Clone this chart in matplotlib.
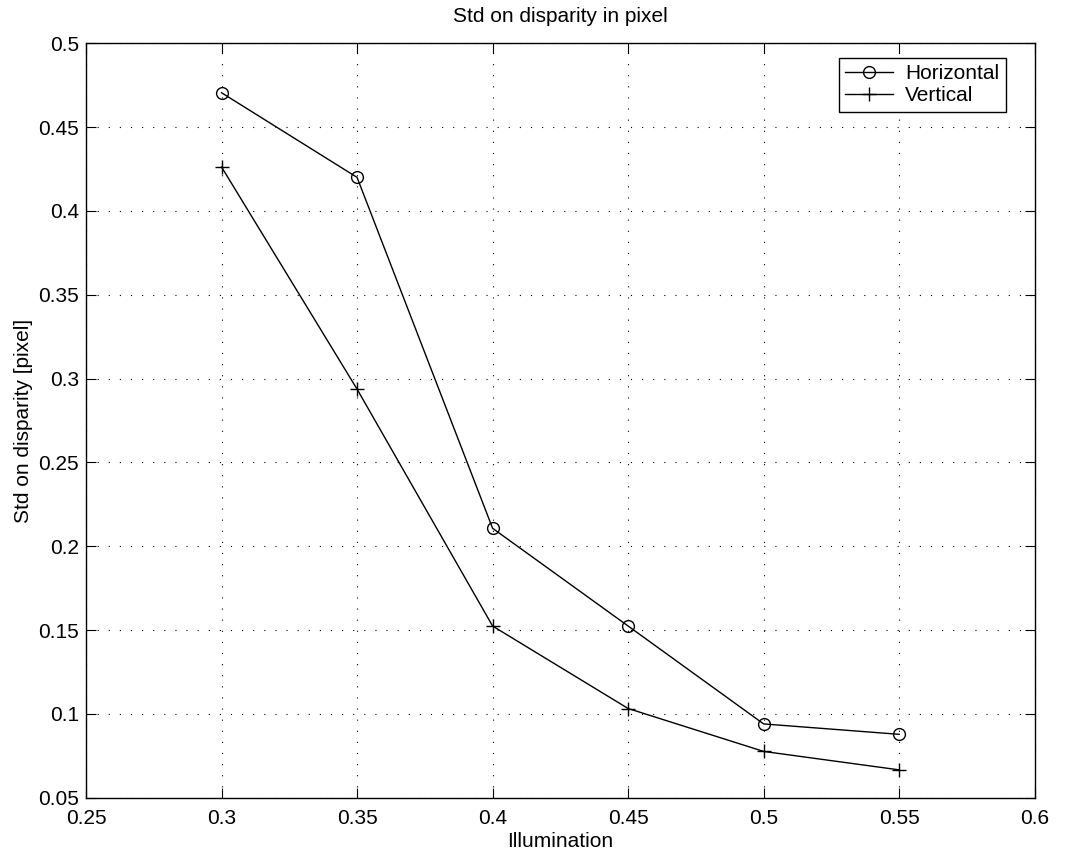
import numpy as np
import matplotlib
matplotlib.use("Agg")
import matplotlib.pyplot as plt

plt.rcParams['font.family'] = ['Liberation Sans', 'DejaVu Sans']

# data
illumination = [0.3, 0.35, 0.4, 0.45, 0.5, 0.55]
std_horizontal = [0.4705, 0.420, 0.2107, 0.1524, 0.094, 0.0878]
std_vertical = [0.4262, 0.2937, 0.1524, 0.1032, 0.0776, 0.0666]

x_ticks = [0.25, 0.3, 0.35, 0.4, 0.45, 0.5, 0.55, 0.6]
x_tick_labels = ['0.25', '0.3', '0.35', '0.4', '0.45', '0.5', '0.55', '0.6']
y_ticks = [0.05, 0.1, 0.15, 0.2, 0.25, 0.3, 0.35, 0.4, 0.45, 0.5]
y_tick_labels = ['0.05', '0.1', '0.15', '0.2', '0.25', '0.3', '0.35', '0.4', '0.45', '0.5']

fig = plt.figure(figsize=(10.7, 8.57), dpi=100)
ax = fig.add_axes([0.0804, 0.0692, 0.8866, 0.8803])

ax.plot(illumination, std_horizontal, color='black', lw=1.0, marker='o',
        markersize=8.5, markerfacecolor='none', markeredgewidth=1.0, label='Horizontal')
ax.plot(illumination, std_vertical, color='black', lw=1.0, marker='+',
        markersize=10, markeredgewidth=1.0, label='Vertical')

ax.set_xlim(0.25, 0.6)
ax.set_ylim(0.05, 0.5)
ax.set_xticks(x_ticks)
ax.set_xticklabels(x_tick_labels)
ax.set_yticks(y_ticks)
ax.set_yticklabels(y_tick_labels)

ax.tick_params(direction='in', length=7, width=0.8, top=True, right=True,
               labelsize=15, colors='black')
ax.tick_params(axis='x', pad=8)
ax.tick_params(axis='y', pad=5)
ax.grid(True, color='black', linestyle=(0, (1, 9)), linewidth=0.8)
for s in ax.spines.values():
    s.set_linewidth(1.0)

ax.set_title('Std on disparity in pixel', fontsize=15, pad=15)
ax.set_xlabel('Illumination', fontsize=15, labelpad=3)
ax.set_ylabel('Std on disparity [pixel]', fontsize=15, labelpad=4)

leg = ax.legend(loc='upper right', bbox_to_anchor=(0.9694, 0.9805), fontsize=15,
                fancybox=False, framealpha=1, edgecolor='black', borderaxespad=0,
                handlelength=2.3, labelspacing=0.15, borderpad=0.3, handletextpad=0.6)
leg.get_frame().set_linewidth(1.0)

fig.savefig('out.png', dpi=100)
